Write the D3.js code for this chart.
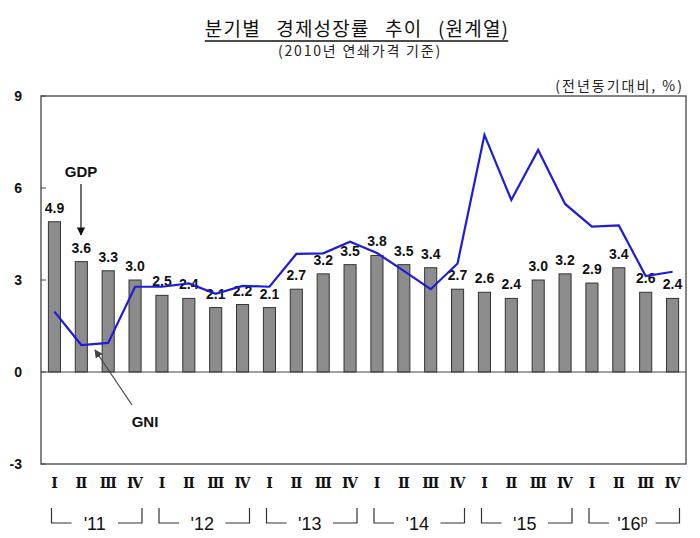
<!DOCTYPE html>
<html><head><meta charset="utf-8">
<script src="https://cdn.jsdelivr.net/npm/d3@7"></script>
<style>
body{margin:0;background:#fff;}
svg{display:block;}
</style></head>
<body><svg id="c" width="700" height="538"></svg>
<script>
const quarters = ["Ⅰ","Ⅱ","Ⅲ","Ⅳ","Ⅰ","Ⅱ","Ⅲ","Ⅳ","Ⅰ","Ⅱ","Ⅲ","Ⅳ","Ⅰ","Ⅱ","Ⅲ","Ⅳ","Ⅰ","Ⅱ","Ⅲ","Ⅳ","Ⅰ","Ⅱ","Ⅲ","Ⅳ"];
const years = ["'11","'12","'13","'14","'15","'16"];
const gdp = [4.9,3.6,3.3,3.0,2.5,2.4,2.1,2.2,2.1,2.7,3.2,3.5,3.8,3.5,3.4,2.7,2.6,2.4,3.0,3.2,2.9,3.4,2.6,2.4];
const gni = [1.97,0.88,0.95,2.78,2.78,2.89,2.55,2.81,2.78,3.85,3.87,4.25,3.88,3.3,2.7,3.54,7.73,5.61,7.24,5.48,4.74,4.78,3.13,3.27];
const yTicks = [-3,0,3,6,9];
const title = "분기별 경제성장률 추이 (원계열)";
const subtitle = "(2010년 연쇄가격 기준)";
const unit = "(전년동기대비, %)";

const svg = d3.select("#c");
const L=41, R=686;
const x = d3.scaleBand().domain(d3.range(gdp.length)).range([L,R]).paddingInner(0.55).paddingOuter(0.275);
const y = d3.scaleLinear().domain([-3,9]).range([464,96]);
const cx = i => x(i) + x.bandwidth()/2;
const bold = "'Liberation Sans', Arial, sans-serif";
const kr = "'Noto Sans CJK KR', sans-serif";

// titles
const t = svg.append("text").attr("x",357).attr("y",36).attr("text-anchor","middle")
  .attr("font-family",kr).attr("font-size",19).attr("letter-spacing","1.2px").attr("word-spacing","10px").attr("fill","#111").text(title);
const bb = t.node().getBBox();
svg.append("line").attr("x1",bb.x).attr("x2",bb.x+bb.width-1).attr("y1",41).attr("y2",41).attr("stroke","#111").attr("stroke-width",1.3);
svg.append("text").attr("x",360).attr("y",56).attr("text-anchor","middle")
  .attr("font-family",kr).attr("font-size",14).attr("letter-spacing","1.8px").attr("fill","#222").text(subtitle);
svg.append("text").attr("x",684).attr("y",91).attr("text-anchor","end")
  .attr("font-family",kr).attr("font-size",14).attr("letter-spacing","2px").attr("fill","#222").text(unit);

// frame
svg.append("rect").attr("x",L).attr("y",y(9)).attr("width",R-L).attr("height",y(-3)-y(9))
  .attr("fill","none").attr("stroke","#444").attr("stroke-width",1.3);
// y ticks
svg.selectAll(".yt").data(yTicks).enter().append("line")
  .attr("x1",L).attr("x2",L+5).attr("y1",d=>y(d)).attr("y2",d=>y(d)).attr("stroke","#444");
svg.selectAll(".yl").data(yTicks).enter().append("text")
  .attr("x",22).attr("y",d=>y(d)+5).attr("text-anchor","end")
  .attr("font-family",bold).attr("font-weight","bold").attr("font-size",14).attr("fill","#111").text(d=>d);

// bars
svg.selectAll(".bar").data(gdp).enter().append("rect")
  .attr("x",(d,i)=>x(i)).attr("width",x.bandwidth())
  .attr("y",d=>y(d)).attr("height",d=>y(0)-y(d))
  .attr("fill","#8c8c8c").attr("stroke","#333").attr("stroke-width",1);
// zero line
svg.append("line").attr("x1",L).attr("x2",R).attr("y1",y(0)).attr("y2",y(0)).attr("stroke","#444").attr("stroke-width",1.2);
// bar labels
svg.selectAll(".bl").data(gdp).enter().append("text")
  .attr("x",(d,i)=>cx(i)).attr("y",d=>y(d)-9).attr("text-anchor","middle")
  .attr("font-family",bold).attr("font-weight","bold").attr("font-size",14).attr("fill","#111")
  .text(d=>d.toFixed(1));

// GNI line
svg.append("path").datum(gni)
  .attr("d",d3.line().x((d,i)=>cx(i)).y(d=>y(d)))
  .attr("fill","none").attr("stroke","#1c1cdc").attr("stroke-width",2.2);

// annotations
const defs = svg.append("defs");
defs.append("marker").attr("id","ah").attr("viewBox","0 0 10 10").attr("refX",9).attr("refY",5)
  .attr("markerWidth",7).attr("markerHeight",7).attr("orient","auto")
  .append("path").attr("d","M0,0L10,5L0,10z").attr("fill","#111");
defs.append("marker").attr("id","ah2").attr("viewBox","0 0 10 10").attr("refX",9).attr("refY",5)
  .attr("markerWidth",7).attr("markerHeight",7).attr("orient","auto")
  .append("path").attr("d","M0,0L10,5L0,10z").attr("fill","#444");
svg.append("text").attr("x",81).attr("y",177).attr("text-anchor","middle")
  .attr("font-family",bold).attr("font-weight","bold").attr("font-size",15).attr("fill","#111").text("GDP");
svg.append("line").attr("x1",81).attr("x2",81).attr("y1",184).attr("y2",235)
  .attr("stroke","#111").attr("stroke-width",1.2).attr("marker-end","url(#ah)");
svg.append("text").attr("x",145).attr("y",427).attr("text-anchor","middle")
  .attr("font-family",bold).attr("font-weight","bold").attr("font-size",15).attr("fill","#111").text("GNI");
svg.append("line").attr("x1",132).attr("x2",95).attr("y1",405).attr("y2",350)
  .attr("stroke","#444").attr("stroke-width",1.2).attr("marker-end","url(#ah2)");

// x labels
svg.selectAll(".xl").data(quarters).enter().append("text")
  .attr("x",(d,i)=>cx(i)).attr("y",488).attr("text-anchor","middle")
  .attr("font-family","'DejaVu Serif', 'Liberation Serif', serif").attr("font-weight","bold").attr("font-size",14).attr("fill","#111")
  .text(d=>d);

// year brackets
const step = x.step();
years.forEach((yr,k)=>{
  const gs = L + step*4*k, ge = gs + step*4, gc = (gs+ge)/2;
  const lx = gs+10.5, rx = ge-6.5;
  svg.append("path").attr("d",`M${lx},508V523H${lx+20}`).attr("fill","none").attr("stroke","#333").attr("stroke-width",1.2);
  svg.append("path").attr("d",`M${rx-24},523H${rx}V508`).attr("fill","none").attr("stroke","#333").attr("stroke-width",1.2);
  const tx = svg.append("text").attr("x",gc).attr("y",530).attr("text-anchor","middle")
    .attr("font-family","'Liberation Sans', Arial, sans-serif").attr("font-size",18).attr("fill","#111").text(yr);
  if(k===years.length-1){
    tx.append("tspan").attr("font-size",12).attr("dy",-6).text("p");
  }
});
</script></body></html>
